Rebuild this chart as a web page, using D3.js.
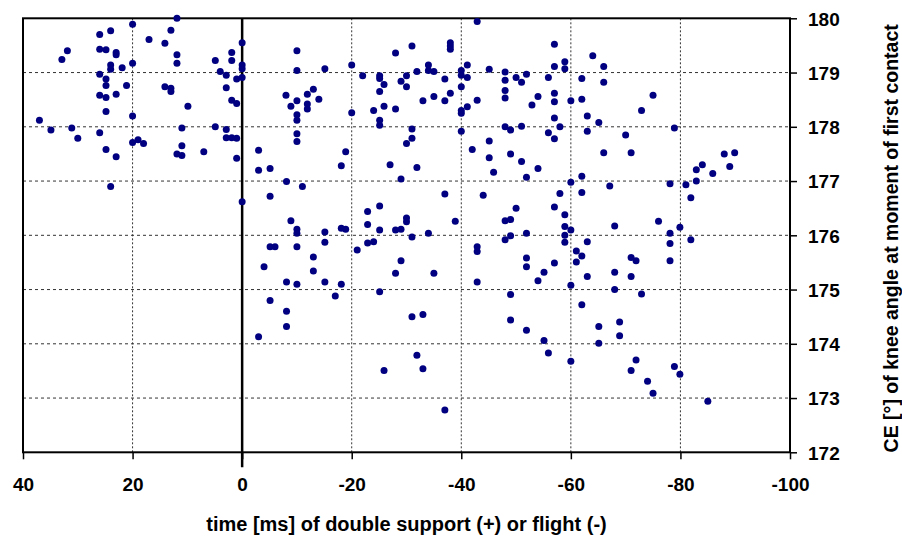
<!DOCTYPE html>
<html>
<head>
<meta charset="utf-8">
<script src="https://cdn.jsdelivr.net/npm/d3@7/dist/d3.min.js"></script>
<style>
  body { margin: 0; background: #fff; }
  svg text { font-family: "Liberation Sans", Arial, sans-serif; font-weight: bold; fill: #000; }
</style>
</head>
<body>
<svg id="chart" width="902" height="540"></svg>
<script>
// tick values
var xTicks = [40, 20, 0, -20, -40, -60, -80, -100];
var yTicks = [172, 173, 174, 175, 176, 177, 178, 179, 180];

// [time ms, CE knee angle deg] -- double support (+)
var doubleSupport = [
  [20.0,179.89],[11.9,180.0],[13.0,179.78],[24.0,179.77],[26.0,179.70],[17.0,179.61],[14.1,179.54],
  [31.9,179.40],[32.9,179.24],[26.0,179.43],[24.85,179.42],[23.0,179.37],[23.0,179.33],[11.9,179.33],
  [11.9,179.17],[20.0,179.17],[4.9,179.22],[1.9,179.37],[1.9,179.22],[24.0,179.14],[24.0,179.06],
  [21.9,179.09],[26.0,178.97],[24.85,178.88],[24.85,178.76],[21.1,178.76],[23.0,178.60],[26.0,178.58],
  [24.85,178.54],[24.85,178.28],[20.0,178.20],[14.1,178.74],[13.0,178.71],[13.0,178.65],[9.9,178.38],
  [4.0,179.02],[2.9,178.95],[1.0,178.88],[2.9,178.72],[1.9,178.49],[1.0,178.43],[37.0,178.12],
  [34.9,177.94],[31.1,177.98],[30.0,177.79],[26.0,177.89],[24.85,177.58],[23.0,177.45],[24.0,176.90],
  [20.0,177.71],[19.0,177.76],[18.0,177.69],[11.0,177.98],[11.0,177.65],[11.9,177.50],[11.0,177.47],
  [7.0,177.54],[4.9,178.00],[2.9,177.95],[2.9,177.80],[1.9,177.80],[1.0,177.79],[1.0,177.42]
];

// exactly zero
var zeroTime = [[0,179.55],[0,179.14],[0,179.07],[0,178.91],[0,176.62]];

// flight (-)
var flight = [
  [-10.0,179.40],[-10.0,179.04],[-15.1,179.07],[-20.0,179.14],[-22.0,178.94],[-25.1,178.94],[-25.1,178.89],
  [-25.9,178.78],[-25.1,178.65],[-28.0,179.36],[-31.0,179.49],[-29.0,178.84],[-30.0,178.94],[-30.0,178.74],
  [-31.9,179.02],[-34.0,179.14],[-34.0,179.04],[-35.0,179.02],[-37.0,178.88],[-38.0,179.55],[-38.0,179.49],
  [-38.0,179.43],[-38.0,178.62],[-37.0,178.48],[-35.0,178.56],[-33.0,178.48],[-8.0,178.58],[-8.9,178.38],
  [-10.0,178.48],[-11.9,178.60],[-13.0,178.69],[-14.0,178.51],[-11.9,178.42],[-11.9,178.33],[-10.0,178.22],
  [-10.0,178.12],[-10.0,177.87],[-10.0,177.73],[-3.0,177.57],[-3.0,177.20],[-5.1,177.23],[-8.1,176.99],
  [-11.0,176.90],[-5.1,176.72],[-20.0,178.26],[-18.9,177.54],[-18.1,177.28],[-24.0,178.30],[-25.1,178.12],
  [-25.1,178.03],[-25.9,178.38],[-28.0,178.33],[-31.0,177.96],[-31.0,177.79],[-30.0,177.69],[-27.0,177.30],
  [-31.9,177.25],[-29.0,177.04],[-37.0,176.76],
  [-8.9,176.27],[-10.0,176.11],[-10.0,176.04],[-15.1,176.06],[-18.1,176.13],[-18.9,176.11],[-22.9,176.44],
  [-25.1,176.54],[-22.9,176.20],[-25.1,176.10],[-30.0,176.32],[-30.0,176.25],[-28.0,176.10],[-29.0,176.11],
  [-31.0,175.97],[-34.0,176.04],[-38.9,176.26],[-5.1,175.79],[-6.0,175.79],[-10.0,175.79],[-15.1,175.87],
  [-22.9,175.86],[-24.0,175.88],[-21.0,175.73],[-13.0,175.60],[-4.0,175.42],[-13.0,175.34],[-29.0,175.53],
  [-28.0,175.30],[-35.0,175.30],[-8.1,175.14],[-10.0,175.10],[-15.1,175.14],[-18.1,175.10],[-17.0,174.88],
  [-25.1,174.96],[-5.1,174.80],[-8.1,174.60],[-8.1,174.32],[-3.0,174.13],[-31.0,174.50],[-33.0,174.54],
  [-31.9,173.79],[-25.9,173.51],[-33.0,173.54],[-37.0,172.78],
  [-42.9,179.94],[-57.0,179.52],[-64.0,179.31],[-58.9,179.20],[-58.9,179.07],[-57.0,179.11],[-66.0,179.11],
  [-41.1,179.14],[-40.0,179.04],[-40.0,178.95],[-41.1,178.91],[-45.1,179.06],[-48.0,179.01],[-48.0,178.86],
  [-50.0,178.91],[-51.9,178.97],[-51.0,178.82],[-55.9,178.91],[-62.0,178.89],[-66.0,178.82],[-40.0,178.74],
  [-48.0,178.67],[-48.0,178.53],[-42.9,178.49],[-54.0,178.56],[-52.9,178.40],[-57.0,178.62],[-57.0,178.46],
  [-60.0,178.48],[-62.0,178.51],[-75.0,178.58],[-72.9,178.30],[-41.1,178.37],[-40.0,178.30],[-40.0,178.25],
  [-63.0,178.20],[-65.1,178.08],[-57.0,178.16],[-58.0,178.00],[-55.9,177.89],[-57.0,177.78],[-48.0,178.00],
  [-49.0,177.94],[-51.0,178.01],[-40.0,177.92],[-63.0,177.92],[-70.0,177.85],[-78.9,177.98],[-42.0,177.58],
  [-45.1,177.74],[-45.1,177.43],[-45.9,177.16],[-49.0,177.50],[-51.0,177.36],[-51.9,177.07],[-54.0,177.23],
  [-66.0,177.52],[-71.0,177.52],[-60.0,176.98],[-62.0,177.09],[-62.0,176.79],[-58.0,176.77],[-67.1,176.91],
  [-44.0,176.74],[-78.1,176.95],[-81.0,176.93],[-81.9,176.69],[-82.9,177.00],[-82.9,177.21],[-84.0,177.30],
  [-85.9,177.14],[-88.0,177.50],[-89.9,177.52],[-89.0,177.27],
  [-50.0,176.50],[-57.0,176.52],[-58.9,176.38],[-48.0,176.27],[-49.0,176.29],[-58.9,176.16],[-60.0,176.10],
  [-58.9,176.00],[-48.0,175.92],[-49.0,175.99],[-51.9,176.04],[-58.9,175.87],[-68.0,176.17],[-76.0,176.26],
  [-78.1,176.04],[-79.9,176.15],[-81.9,175.92],[-78.1,175.85],[-63.0,175.88],[-42.9,175.79],[-42.9,175.70],
  [-61.0,175.71],[-62.0,175.62],[-61.0,175.51],[-51.9,175.58],[-51.9,175.42],[-57.0,175.49],[-55.1,175.32],
  [-54.0,175.16],[-63.0,175.24],[-71.0,175.59],[-71.9,175.53],[-68.0,175.32],[-71.0,175.24],[-78.1,175.53],
  [-42.9,175.14],[-60.0,175.08],[-68.0,175.00],[-72.9,174.92],[-49.0,174.91],[-62.0,174.72],[-49.0,174.44],
  [-51.9,174.25],[-55.1,174.06],[-55.9,173.83],[-60.0,173.68],[-65.1,174.32],[-68.9,174.40],[-68.9,174.15],
  [-65.1,174.01],[-71.9,173.70],[-71.0,173.51],[-74.0,173.31],[-75.0,173.09],[-78.9,173.58],[-79.9,173.44],
  [-85.0,172.94]
];

var data = doubleSupport.concat(zeroTime, flight);

// plot box (note: "top" is taken by window.top)
var plotL = 23, plotR = 790, plotT = 18.3, plotB = 452.3;

var svg = d3.select("#chart");

var xScale = d3.scaleLinear().domain([40, -100]).range([plotL, plotR]);
var yScale = d3.scaleLinear().domain([172, 180]).range([plotB, plotT]);

// dashed grid
svg.append("g").selectAll("line")
  .data(yTicks.filter(function(d){ return d > 172 && d < 180; }))
  .enter().append("line")
  .attr("x1", plotL).attr("x2", plotR)
  .attr("y1", function(d){ return yScale(d); })
  .attr("y2", function(d){ return yScale(d); })
  .attr("stroke", "#333").attr("stroke-width", 1).attr("stroke-dasharray", "3,3");

svg.append("g").selectAll("line")
  .data(xTicks.filter(function(d){ return d < 40 && d > -100 && d !== 0; }))
  .enter().append("line")
  .attr("x1", function(d){ return xScale(d); })
  .attr("x2", function(d){ return xScale(d); })
  .attr("y1", plotT).attr("y2", plotB)
  .attr("stroke", "#333").attr("stroke-width", 1).attr("stroke-dasharray", "2,2");

// x axis
var xAxis = svg.append("g")
  .attr("transform", "translate(0," + plotB + ")")
  .call(d3.axisBottom(xScale).tickValues(xTicks).tickSize(7).tickSizeOuter(0)
    .tickFormat(function(d){ return String(d); }));
xAxis.select(".domain").remove();
xAxis.selectAll(".tick line").attr("stroke", "#000").attr("stroke-width", 1.5);
xAxis.selectAll(".tick text")
  .attr("y", 38.5).attr("dy", null)
  .style("font-size", "19px");

// y axis on the right
var yAxis = svg.append("g")
  .attr("transform", "translate(" + plotR + ",0)")
  .call(d3.axisRight(yScale).tickValues(yTicks).tickSize(7).tickPadding(11).tickSizeOuter(0));
yAxis.select(".domain").remove();
yAxis.selectAll(".tick line").attr("stroke", "#000").attr("stroke-width", 1.5);
yAxis.selectAll(".tick text")
  .attr("dy", "0.36em")
  .style("font-size", "19px");

// frame
svg.append("rect")
  .attr("x", plotL).attr("y", plotT)
  .attr("width", plotR - plotL).attr("height", plotB - plotT)
  .attr("fill", "none").attr("stroke", "#000").attr("stroke-width", 2);

// zero line
svg.append("line")
  .attr("x1", xScale(0)).attr("x2", xScale(0))
  .attr("y1", plotT).attr("y2", plotB + 15)
  .attr("stroke", "#000").attr("stroke-width", 2.5);

// points
svg.append("g").selectAll("circle")
  .data(data)
  .enter().append("circle")
  .attr("cx", function(d){ return xScale(d[0]); })
  .attr("cy", function(d){ return yScale(d[1]); })
  .attr("r", 3.5)
  .attr("fill", "#000080");

// axis titles
svg.append("text")
  .attr("x", (plotL + plotR) / 2).attr("y", 531)
  .style("text-anchor", "middle")
  .style("font-size", "20px")
  .text("time [ms] of double support (+) or flight (-)");

svg.append("text")
  .attr("transform", "translate(898," + ((plotT + plotB) / 2 + 3) + ") rotate(-90)")
  .style("text-anchor", "middle")
  .style("font-size", "19.5px")
  .text("CE [°] of knee angle at moment of first contact");
</script>
</body>
</html>
